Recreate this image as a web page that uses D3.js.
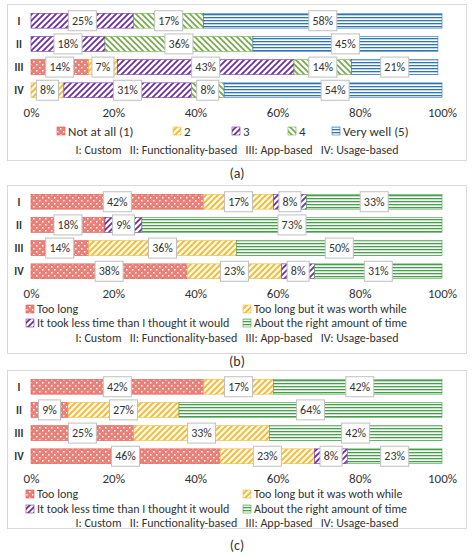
<!DOCTYPE html>
<html><head><meta charset="utf-8">
<script src="https://cdn.jsdelivr.net/npm/d3@7"></script>
<style>body{margin:0;background:#fff}text{font-family:Calibri,Carlito,Lato,sans-serif}</style>
</head><body>
<script>
var rows = ['I', 'II', 'III', 'IV'];
var ticks = [0, 20, 40, 60, 80, 100];
var groupNote = 'I: Custom   II: Functionality-based   III: App-based   IV: Usage-based';

var keysA = ['Not at all (1)', '2', '3', '4', 'Very well (5)'];
var valuesA = [[0, 0, 25, 17, 58], [0, 0, 18, 36, 45], [14, 7, 43, 14, 21], [0, 8, 31, 8, 54]];
var keysB = ['Too long', 'Too long but it was worth while', 'It took less time than I thought it would', 'About the right amount of time'];
var valuesB = [[42, 17, 8, 33], [18, 0, 9, 73], [14, 36, 0, 50], [38, 23, 8, 31]];
var keysC = ['Too long', 'Too long but it was woth while', 'It took less time than I thought it would', 'About the right amount of time'];
var valuesC = [[42, 17, 0, 42], [9, 27, 0, 64], [25, 33, 0, 42], [46, 23, 8, 23]];

var svg = d3.select('body').append('svg').attr('width', 474).attr('height', 556);
var defs = svg.append('defs');

function pat(id, bg, fg, kind) {
  var p = defs.append('pattern').attr('id', id).attr('patternUnits', 'userSpaceOnUse')
    .attr('width', 6).attr('height', 6);
  p.append('rect').attr('width', 6).attr('height', 6).attr('fill', bg);
  if (kind === 'dots') {
    p.append('rect').attr('width', 6).attr('height', 6).attr('fill', fg).attr('opacity', 0.55);
    [[0, 0], [3, 3]].forEach(function (d) {
      p.append('rect').attr('x', d[0]).attr('y', d[1]).attr('width', 1.5).attr('height', 1.5).attr('fill', '#fff');
    });
  } else if (kind === 'diag') {
    p.append('path').attr('d', 'M-1,7 L7,-1 M-1,1 L1,-1 M5,7 L7,5').attr('stroke', fg).attr('stroke-width', 1.8);
  } else if (kind === 'rdiag') {
    p.append('path').attr('d', 'M-1,-1 L7,7 M5,-1 L7,1 M-1,5 L1,7').attr('stroke', fg).attr('stroke-width', 1.6);
  } else {
    p.attr('height', 3);
    p.append('rect').attr('y', 1).attr('width', 6).attr('height', 1.3).attr('fill', fg);
  }
  return 'url(#' + id + ')';
}
var fRed = pat('pRed', '#f6b3ad', '#e0574f', 'dots');
var fYel = pat('pYel', '#fff8e0', '#f0b93a', 'diag');
var fPur = pat('pPur', '#ffffff', '#7030a0', 'diag');
var fGrnD = pat('pGrnD', '#ffffff', '#70ad47', 'rdiag');
var fBlu = pat('pBlu', '#ffffff', '#2e75b6', 'hline');
var fGrnH = pat('pGrnH', '#ffffff', '#43a047', 'hline');

var fillsA = [fRed, fYel, fPur, fGrnD, fBlu];
var fillsB = [fRed, fYel, fPur, fGrnH];
var edgeA = ['#e0574f', '#f0b93a', '#7030a0', '#70ad47', '#2e75b6'];
var edgeB = ['#e0574f', '#f0b93a', '#7030a0', '#43a047'];

function panel(o) {
  var g = svg.append('g').attr('transform', 'translate(0,' + o.top + ')');
  g.append('rect').attr('x', 7.5).attr('y', 0.5).attr('width', 459).attr('height', o.boxH)
    .attr('fill', '#fff').attr('stroke', '#d9d9d9');
  var x = d3.scaleLinear().domain([0, 100]).range([31, 442]);
  var y = d3.scaleBand().domain(rows).range([7, 96]).paddingInner(0.36).paddingOuter(0.1);

  g.append('g').attr('transform', 'translate(0,' + (y.range()[1] + 5) + ')')
    .call(d3.axisBottom(x).tickValues(ticks).tickSize(0).tickFormat(function (d) { return d + '%'; }))
    .call(function (a) {
      a.select('.domain').remove();
      a.selectAll('text').attr('font-size', 13).attr('fill', '#333').attr('dy', '0.7em');
    });

  g.selectAll('.rl').data(rows).enter().append('text')
    .attr('x', 19).attr('y', function (d) { return y(d) + y.bandwidth() / 2; })
    .attr('dy', '0.35em').attr('text-anchor', 'middle').attr('font-size', 11).attr('font-weight', 'bold')
    .attr('fill', '#333').text(function (d) { return d; });

  o.values.forEach(function (vals, i) {
    var acc = 0;
    var segs = vals.map(function (v, k) { var s = { k: k, v: v, x0: acc }; acc += v; return s; });
    var row = g.append('g');
    row.selectAll('rect').data(segs.filter(function (s) { return s.v > 0; })).enter().append('rect')
      .attr('x', function (s) { return x(s.x0); })
      .attr('width', function (s) { return x(Math.min(100, s.x0 + s.v)) - x(s.x0); })
      .attr('y', y(rows[i])).attr('height', y.bandwidth())
      .attr('fill', function (s) { return o.fills[s.k]; })
      .attr('stroke', function (s) { return o.edges[s.k]; }).attr('stroke-width', 0.6);
    var lab = row.selectAll('g').data(segs.filter(function (s) { return s.v > 0; })).enter().append('g')
      .attr('transform', function (s) {
        return 'translate(' + x(s.x0 + s.v / 2) + ',' + (y(rows[i]) + y.bandwidth() / 2) + ')';
      });
    lab.append('rect').attr('x', function (s) { return s.v < 10 ? -11 : -14; }).attr('y', -10)
      .attr('width', function (s) { return s.v < 10 ? 22 : 28; }).attr('height', 20)
      .attr('fill', '#fff').attr('stroke', '#bfbfbf');
    lab.append('text').attr('text-anchor', 'middle').attr('dy', '0.35em').attr('font-size', 12)
      .attr('fill', '#333').text(function (s) { return s.v + '%'; });
  });

  var lg = g.append('g');
  o.legend.forEach(function (it) {
    var e = lg.append('g').attr('transform', 'translate(' + it[1] + ',' + it[2] + ')');
    e.append('rect').attr('x', 0).attr('y', -4).attr('width', 8).attr('height', 8)
      .attr('fill', o.fills[it[0]]).attr('stroke', o.edges[it[0]]).attr('stroke-width', 0.6);
    e.append('text').attr('x', 11).attr('dy', '0.35em').attr('font-size', o.lfs).attr('fill', '#333')
      .text(o.keys[it[0]]);
  });
  g.append('text').attr('x', 237).attr('y', o.noteY).attr('dy', '0.35em').attr('text-anchor', 'middle')
    .attr('font-size', 12).attr('fill', '#333').attr('xml:space', 'preserve').text(groupNote);
  svg.append('text').attr('x', 237).attr('y', o.top + o.capY).attr('dy', '0.35em').attr('text-anchor', 'middle')
    .attr('font-size', 14).attr('fill', '#333').text(o.cap);
}

panel({ top: 4, boxH: 156, values: valuesA, keys: keysA, fills: fillsA, edges: edgeA, lfs: 13,
  legend: [[0, 57, 127], [1, 173, 127], [2, 232, 127], [3, 288, 127], [4, 332, 127]],
  noteY: 146, capY: 169, cap: '(a)' });
panel({ top: 185, boxH: 168, values: valuesB, keys: keysB, fills: fillsB, edges: edgeB, lfs: 12,
  legend: [[0, 26, 124], [1, 243, 124], [2, 26, 138], [3, 243, 138]],
  noteY: 153, capY: 176, cap: '(b)' });
panel({ top: 370, boxH: 158, values: valuesC, keys: keysC, fills: fillsB, edges: edgeB, lfs: 12,
  legend: [[0, 26, 124], [1, 243, 124], [2, 26, 139], [3, 243, 139]],
  noteY: 153, capY: 175, cap: '(c)' });
</script>
</body></html>
